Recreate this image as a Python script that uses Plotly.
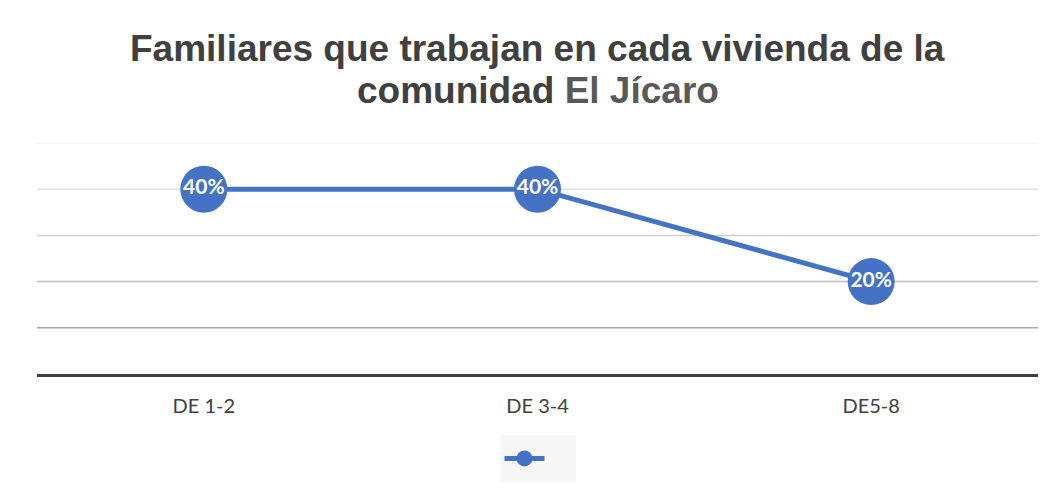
"""
Line chart: familiares que trabajan por vivienda, El Jícaro
"""

import plotly.graph_objects as go

categories = ["DE 1-2", "DE 3-4", "DE5-8"]
shares = [0.40, 0.40, 0.20]
labels = ["40%", "40%", "20%"]
grid_values = [0.1, 0.2, 0.3, 0.4, 0.5]
grid_colors = ["#a6a6a6", "#bfbfbf", "#d0d0d0", "#e0e0e0", "#f3f3f3"]
title_lines = [
    "Familiares que trabajan en cada vivienda de la",
    "comunidad <span style='color:#595959'>El Jícaro</span>",
]

BLUE = "#4472c4"

fig = go.Figure()

fig.add_trace(
    go.Scatter(
        x=categories,
        y=shares,
        mode="lines+markers+text",
        text=labels,
        textposition="middle center",
        textfont=dict(family="Lato", size=21, color="white", weight="bold"),
        line=dict(color=BLUE, width=5),
        marker=dict(color=BLUE, size=47),
        name="\u00a0\u00a0\u00a0",
        showlegend=True,
        cliponaxis=False,
    )
)

# gridlines that fade towards the top
for val, col in zip(grid_values, grid_colors):
    fig.add_shape(
        type="line",
        xref="paper",
        yref="y",
        x0=0,
        x1=1,
        y0=val,
        y1=val,
        line=dict(color=col, width=1.5),
        layer="below",
    )

# two-line title with tight line spacing
for txt, ypos in zip(title_lines, [1.411, 1.229]):
    fig.add_annotation(
        text=txt,
        xref="paper",
        yref="paper",
        x=0.5,
        y=ypos,
        xanchor="center",
        yanchor="middle",
        showarrow=False,
        font=dict(family="Liberation Sans", size=37, color="#404040", weight="bold"),
    )

fig.update_layout(
    width=1048,
    height=489,
    paper_bgcolor="white",
    plot_bgcolor="rgba(0,0,0,0)",
    margin=dict(l=29, r=18, t=135, b=123),
    showlegend=True,
    legend=dict(
        orientation="h",
        x=0.5,
        xanchor="center",
        y=-0.366,
        yanchor="middle",
        bgcolor="#f7f7f7",
        font=dict(size=26),
        itemwidth=40,
    ),
)

fig.update_xaxes(
    range=[-0.5, 2.5],
    showgrid=False,
    showline=True,
    linecolor="#404040",
    linewidth=3,
    ticks="",
    ticklabelstandoff=12,
    tickfont=dict(family="Lato", size=20, color="#404040"),
)

fig.update_yaxes(
    range=[0, 0.5],
    showgrid=False,
    zeroline=False,
    showticklabels=False,
)

fig.write_html("out.html")
